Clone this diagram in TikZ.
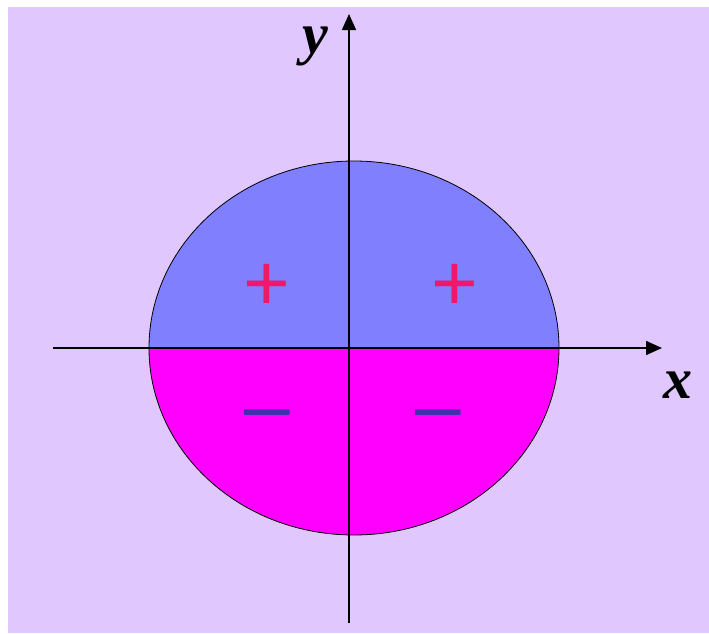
\documentclass[tikz,border=0pt]{standalone}
\usepackage{fontspec}
\setmainfont{Liberation Serif}
\newfontfamily\signfont{Liberation Sans}
\usetikzlibrary{arrows.meta}

\definecolor{bgviolet}{RGB}{224,200,255}
\definecolor{upperblue}{RGB}{128,128,255}
\definecolor{lowermag}{RGB}{255,0,255}
\definecolor{pluscol}{RGB}{240,24,104}
\definecolor{minuscol}{RGB}{64,48,170}

\tikzset{
  axis/.style={black, line width=1.6pt, -{Triangle[length=16pt,width=14pt]}},
  axislabel/.style={font=\fontsize{58}{58}\selectfont\bfseries\itshape},
  plussign/.style={text=pluscol, font=\signfont\fontsize{80}{80}\selectfont},
  minussign/.style={text=minuscol, font=\signfont\fontsize{82}{82}\selectfont}
}

\begin{document}
\begin{tikzpicture}[x=1pt, y=1pt]

\useasboundingbox (-349,-285) rectangle (360,348);
\fill[bgviolet] (-341,-285) rectangle (360,341);

% upper and lower halves of the ellipse
\fill[upperblue] (-200,0) arc[start angle=180, end angle=0, x radius=205, y radius=187] -- cycle;
\fill[lowermag] (-200,0) arc[start angle=180, end angle=360, x radius=205, y radius=187] -- cycle;
\draw[black, line width=0.8pt] (5,0) ellipse[x radius=205, y radius=187];

\coordinate (xstart) at (-296,0);
\coordinate (xend) at (313,0);
\coordinate (ystart) at (0,-275);
\coordinate (yend) at (0,334);

\draw[axis] (xstart) -- (xend);
\draw[axis] (ystart) -- (yend);

\node[axislabel] (ylab) at (-34,302) {y};
\node[axislabel] (xlab) at (329,-37) {x};

\node[plussign] (p1) at (-82,61) {+};
\node[plussign] (p2) at (106,61) {+};
\node[minussign] (m1) at (-82,-74) {–};
\node[minussign] (m2) at (89,-74) {–};

\end{tikzpicture}
\end{document}
